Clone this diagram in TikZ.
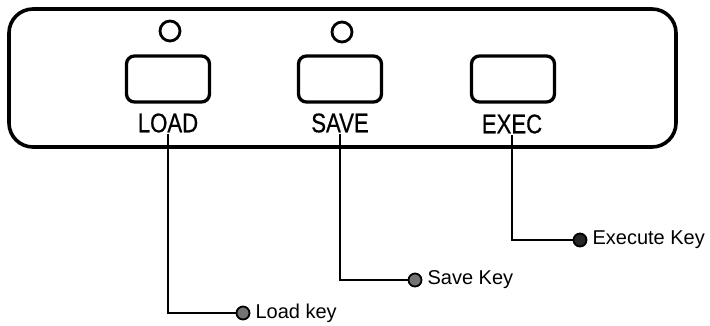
\documentclass[tikz,border=0pt]{standalone}
\usepackage{fontspec}
\newfontfamily\keyfont[FakeStretch=0.82,FakeBold=0.5]{Liberation Sans}
\newfontfamily\notefont{Liberation Sans}
\usetikzlibrary{positioning}

\tikzset{
  keybox/.style={draw,line width=3.3pt,rounded corners=8pt,minimum width=83pt,minimum height=46pt},
  lamp/.style={draw,circle,line width=2.8pt,minimum size=20pt,inner sep=0pt},
  keylbl/.style={font=\keyfont\fontsize{27}{27}\selectfont,inner sep=1pt},
  leader/.style={line width=1.5pt},
  dot/.style={circle,draw,line width=1.8pt,minimum size=13pt,inner sep=0pt},
  note/.style={font=\notefont\fontsize{20}{20}\selectfont,inner sep=0pt}
}

\begin{document}
\begin{tikzpicture}[x=1pt,y=-1pt]
  \useasboundingbox (0,0) rectangle (710,325);
  % front panel
  \draw[line width=3.6pt,rounded corners=24pt] (9,9) rectangle (676,147);
  % keys and lamps
  \node[keybox] (loadbtn) at (168,79) {};
  \node[keybox] (savebtn) at (340,79) {};
  \node[keybox] (execbtn) at (513,79) {};
  \node[lamp] (loadlamp) at (170,31) {};
  \node[lamp] (savelamp) at (342,32) {};
  \node[keylbl] (loadlbl) at (168,123) {LOAD};
  \node[keylbl] (savelbl) at (340,123) {SAVE};
  \node[keylbl] (execlbl) at (512,124) {EXEC};
  % callouts
  \node[dot,fill=black!55] (loaddot) at (243,313) {};
  \node[dot,fill=black!55] (savedot) at (415,280) {};
  \node[dot,fill=black!85] (execdot) at (580,240) {};
  \node[note,right=5pt of loaddot] (loadnote) {Load key};
  \node[note,right=5pt of savedot] (savenote) {Save Key};
  \node[note,right=5pt of execdot] (execnote) {Execute Key};
  \draw[leader] (loadlbl.south) |- (loaddot.west);
  \draw[leader] (savelbl.south) |- (savedot.west);
  \draw[leader] (execlbl.south) |- (execdot.west);
\end{tikzpicture}
\end{document}
